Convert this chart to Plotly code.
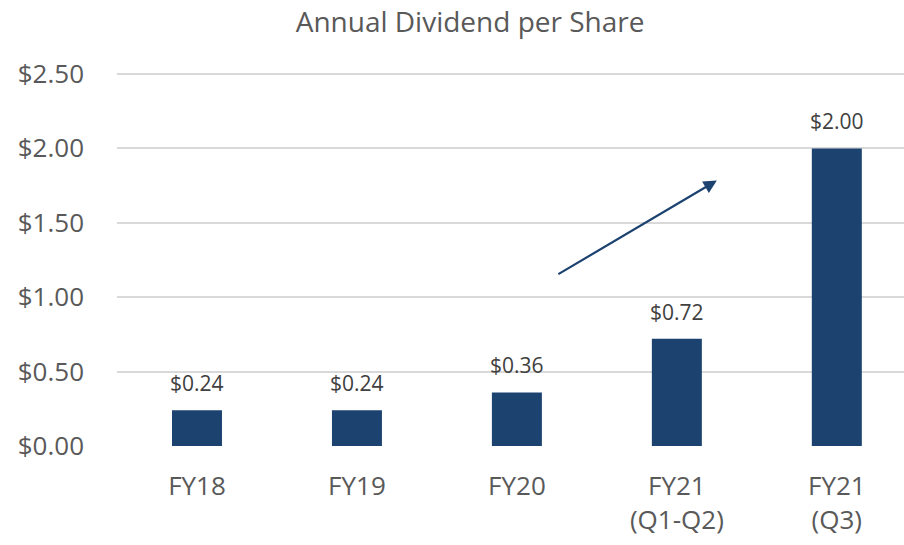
import plotly.graph_objects as go

categories = ["FY18", "FY19", "FY20", "FY21<br>(Q1-Q2)", "FY21<br>(Q3)"]
dividends = [0.24, 0.24, 0.36, 0.72, 2.00]
labels = ["$0.24", "$0.24", "$0.36", "$0.72", "$2.00"]
y_ticks = [0, 0.5, 1.0, 1.5, 2.0, 2.5]
y_tick_labels = ["$0.00", "$0.50", "$1.00", "$1.50", "$2.00", "$2.50"]

BAR = "#1c4270"
TXT = "#595959"
FONT = "Open Sans"

xs = list(range(len(categories)))

fig = go.Figure()
fig.add_trace(go.Bar(
    x=xs, y=dividends,
    marker=dict(color=BAR, line=dict(width=0)),
    width=0.3125, hoverinfo="skip",
))

# value labels above bars
for xi, v, lab in zip(xs, dividends, labels):
    fig.add_annotation(x=xi, y=v, xref="x", yref="y", text=lab,
                       showarrow=False, yanchor="middle", yshift=27,
                       font=dict(family=FONT, size=21, color="#404040"))

# trend arrow
fig.add_annotation(x=3.25, y=1.784, ax=2.25, ay=1.149,
                   xref="x", yref="y", axref="x", ayref="y",
                   text="", showarrow=True, arrowhead=2, arrowsize=1.2,
                   arrowwidth=2.2, arrowcolor=BAR)

fig.update_layout(
    width=904, height=545,
    margin=dict(l=117, r=0, t=71, b=99),
    paper_bgcolor="white", plot_bgcolor="white",
    showlegend=False,
    title=dict(text="Annual Dividend per Share", x=0.52, xanchor="center",
               y=0.96, yanchor="middle", xref="container",
               font=dict(family=FONT, size=28, color=TXT)),
    font=dict(family=FONT, color=TXT),
    xaxis=dict(tickmode="array", tickvals=xs,
               ticktext=categories, range=[-0.5, 4.42], showgrid=False,
               zeroline=False, showline=False, ticklabelstandoff=22,
               tickfont=dict(family=FONT, size=26, color=TXT)),
    yaxis=dict(range=[0, 2.52], tickmode="array", tickvals=y_ticks,
               ticktext=y_tick_labels, showgrid=True, gridcolor="#d9d9d9",
               gridwidth=1.5, zeroline=False, showline=False,
               ticklabelstandoff=32,
               tickfont=dict(family=FONT, size=26, color=TXT)),
)

fig.write_html("out.html", config={"displayModeBar": False},
               post_script="document.body.style.margin='0';document.body.style.overflow='hidden';")
